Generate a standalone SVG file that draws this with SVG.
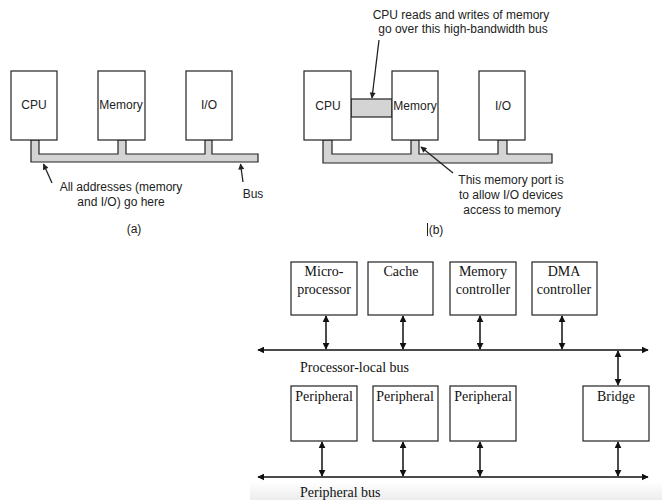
<svg xmlns="http://www.w3.org/2000/svg" width="662" height="500" viewBox="0 0 662 500">
<defs>
<marker id="ah" viewBox="0 0 10 10" refX="9" refY="5" markerWidth="7" markerHeight="7" markerUnits="userSpaceOnUse" orient="auto-start-reverse">
<path d="M0,0 L10,5 L0,10 Z" fill="#111"/>
</marker>
<marker id="ahs" viewBox="0 0 10 10" refX="9" refY="5" markerWidth="8" markerHeight="6" markerUnits="userSpaceOnUse" orient="auto-start-reverse">
<path d="M0,0 L10,5 L0,10 Z" fill="#222"/>
</marker>
<linearGradient id="fade" x1="0" y1="0" x2="0" y2="1">
<stop offset="0" stop-color="#ffffff"/>
<stop offset="1" stop-color="#ececec"/>
</linearGradient>
</defs>
<style>
.sbox{fill:#fff;stroke:#222;stroke-width:1.2}
.bus{fill:#d4d4d4;stroke:#222;stroke-width:1.2}
.sans{font-family:"Liberation Sans",Arial,sans-serif;font-size:12px;fill:#222}
.box{fill:#fff;stroke:#222;stroke-width:1.2}
.serif{font-family:"Liberation Serif","Times New Roman",serif;font-size:14px;fill:#111}
.ln{stroke:#222;stroke-width:1.3;fill:none}
.dbl{stroke:#111;stroke-width:1.5;fill:none;marker-start:url(#ah);marker-end:url(#ah)}
</style>
<rect x="0" y="0" width="662" height="500" fill="#fff"/>
<rect x="250" y="482" width="412" height="18" fill="url(#fade)"/>

<!-- Part (a) -->
<g id="a-bus">
<path class="bus" d="M31,140 V162 H258 V154 H212 V140 H205 V154 H126 V140 H118 V154 H39 V140 Z"/>
</g>
<g id="a-cpu"><rect class="sbox" x="11" y="71" width="46" height="69"/><text class="sans" x="34" y="109" text-anchor="middle">CPU</text></g>
<g id="a-memory"><rect class="sbox" x="98" y="71" width="47" height="69"/><text class="sans" x="121" y="109" text-anchor="middle">Memory</text></g>
<g id="a-io"><rect class="sbox" x="186" y="71" width="46" height="69"/><text class="sans" x="209" y="109" text-anchor="middle">I/O</text></g>
<g id="a-labels">
<text class="sans" x="121" y="191" text-anchor="middle">All addresses (memory</text>
<text class="sans" x="121" y="206" text-anchor="middle">and I/O) go here</text>
<text class="sans" x="253" y="198" text-anchor="middle">Bus</text>
<text class="sans" x="134" y="233" text-anchor="middle">(a)</text>
</g>

<!-- Part (b) -->
<g id="b-bus">
<path class="bus" d="M323,140 V163 H552 V154 H507 V140 H498 V154 H419 V140 H411 V154 H332 V140 Z"/>
</g>
<g id="b-hbus"><rect class="bus" x="351" y="99" width="41" height="18"/></g>
<g id="b-cpu"><rect class="sbox" x="304" y="71" width="47" height="69"/><text class="sans" x="328" y="110" text-anchor="middle">CPU</text></g>
<g id="b-memory"><rect class="sbox" x="392" y="71" width="46" height="69"/><text class="sans" x="415" y="110" text-anchor="middle">Memory</text></g>
<g id="b-io"><rect class="sbox" x="479" y="71" width="46" height="69"/><text class="sans" x="503" y="110" text-anchor="middle">I/O</text></g>
<g id="b-labels">
<text class="sans" x="461" y="19" text-anchor="middle">CPU reads and writes of memory</text>
<text class="sans" x="463" y="33" text-anchor="middle">go over this high-bandwidth bus</text>
<text class="sans" x="511" y="184" text-anchor="middle">This memory port is</text>
<text class="sans" x="511" y="199" text-anchor="middle">to allow I/O devices</text>
<text class="sans" x="512" y="214" text-anchor="middle">access to memory</text>
<text class="sans" x="436" y="234" text-anchor="middle">(b)</text>
<line x1="427.5" y1="223" x2="427.5" y2="236" stroke="#222" stroke-width="1"/>
</g>

<!-- Lower diagram nodes -->
<g id="microprocessor"><rect class="box" x="291" y="262" width="66" height="53"/><text class="serif" x="324" y="276" text-anchor="middle">Micro-</text><text class="serif" x="324" y="294" text-anchor="middle">processor</text></g>
<g id="cache"><rect class="box" x="368" y="262" width="65" height="53"/><text class="serif" x="401" y="276" text-anchor="middle">Cache</text></g>
<g id="memory-controller"><rect class="box" x="450" y="262" width="66" height="53"/><text class="serif" x="483" y="276" text-anchor="middle">Memory</text><text class="serif" x="483" y="294" text-anchor="middle">controller</text></g>
<g id="dma-controller"><rect class="box" x="532" y="262" width="65" height="53"/><text class="serif" x="564" y="276" text-anchor="middle">DMA</text><text class="serif" x="564" y="294" text-anchor="middle">controller</text></g>
<g id="peripheral-1"><rect class="box" x="291" y="386" width="66" height="55"/><text class="serif" x="324" y="401" text-anchor="middle">Peripheral</text></g>
<g id="peripheral-2"><rect class="box" x="373" y="386" width="65" height="55"/><text class="serif" x="405" y="401" text-anchor="middle">Peripheral</text></g>
<g id="peripheral-3"><rect class="box" x="450" y="386" width="66" height="55"/><text class="serif" x="483" y="401" text-anchor="middle">Peripheral</text></g>
<g id="bridge"><rect class="box" x="583" y="386" width="66" height="55"/><text class="serif" x="616" y="401" text-anchor="middle">Bridge</text></g>
<g id="bus-labels">
<text class="serif" x="300" y="372">Processor-local bus</text>
<text class="serif" x="300" y="497">Peripheral bus</text>
</g>

<!-- Connectors -->
<g id="connectors">
<line class="ln" x1="52" y1="183" x2="43.5" y2="164" marker-end="url(#ahs)"/>
<line class="ln" x1="243" y1="182" x2="240.5" y2="164" marker-end="url(#ahs)"/>
<line class="ln" x1="379" y1="40" x2="372" y2="98" marker-end="url(#ahs)"/>
<line class="ln" x1="453" y1="173" x2="421" y2="147" marker-end="url(#ahs)"/>

<line class="dbl" x1="258" y1="350" x2="648" y2="350"/>
<line class="dbl" x1="258" y1="477" x2="648" y2="477"/>
<line class="dbl" x1="326" y1="316" x2="326" y2="349"/>
<line class="dbl" x1="403" y1="316" x2="403" y2="349"/>
<line class="dbl" x1="480" y1="316" x2="480" y2="349"/>
<line class="dbl" x1="562" y1="316" x2="562" y2="349"/>
<line class="dbl" x1="618" y1="351" x2="618" y2="385"/>
<line class="dbl" x1="322" y1="442" x2="322" y2="476"/>
<line class="dbl" x1="403" y1="442" x2="403" y2="476"/>
<line class="dbl" x1="480" y1="442" x2="480" y2="476"/>
<line class="dbl" x1="618" y1="442" x2="618" y2="476"/>
</g>
</svg>
